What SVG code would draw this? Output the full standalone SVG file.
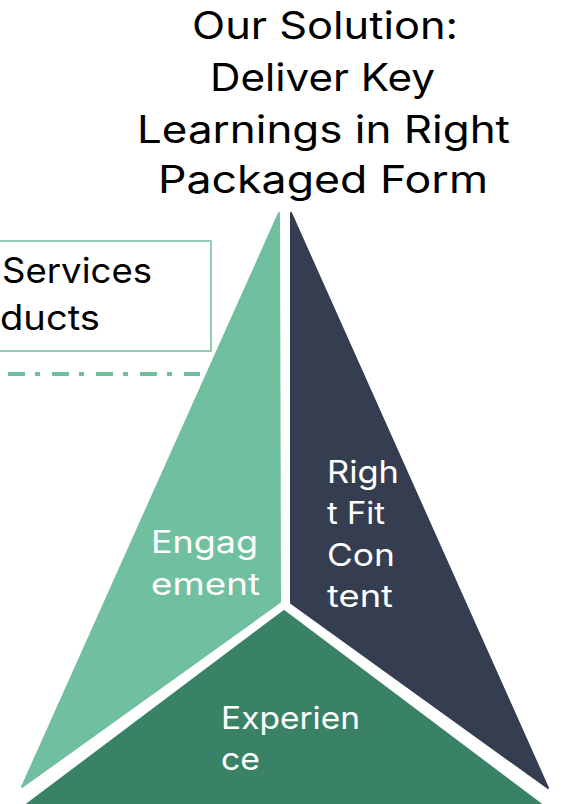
<svg xmlns="http://www.w3.org/2000/svg" width="564" height="804" viewBox="0 0 564 804">
<style>
.t{font-family:Inter,"Open Sans","Liberation Sans",sans-serif;}
.title{font-size:38px;fill:#000;}
.lbl{font-size:31px;fill:#fff;}
.box{font-size:35px;fill:#000;}
</style>
<rect width="564" height="804" fill="#fff"/>
<g id="title">
<text class="t title" x="192" y="39" textLength="266" lengthAdjust="spacingAndGlyphs">Our Solution:</text>
<text class="t title" x="210" y="91" textLength="225" lengthAdjust="spacingAndGlyphs">Deliver Key</text>
<text class="t title" x="137" y="143" textLength="373" lengthAdjust="spacingAndGlyphs">Learnings in Right</text>
<text class="t title" x="158" y="193" textLength="330" lengthAdjust="spacingAndGlyphs">Packaged Form</text>
</g>
<g id="services-box">
<rect x="-10" y="241" width="221" height="110" fill="#fff" stroke="#70BF9F" stroke-width="1.5"/>
<text class="t box" x="2" y="283" textLength="150" lengthAdjust="spacingAndGlyphs">Services</text>
<text class="t box" x="0" y="330" textLength="100" lengthAdjust="spacingAndGlyphs">ducts</text>
</g>
<g id="connectors">
<line x1="8" y1="374" x2="200" y2="374" stroke="#70BF9F" stroke-width="4" stroke-dasharray="17 10 5 12"/>
</g>
<g id="engagement">
<polygon points="279,213 280,602 22,787" fill="#70BF9F" stroke="#70BF9F" stroke-width="2" stroke-linejoin="round"/>
<text class="t lbl" x="151" y="553" textLength="107" lengthAdjust="spacingAndGlyphs">Engag</text>
<text class="t lbl" x="151" y="595" textLength="109" lengthAdjust="spacingAndGlyphs">ement</text>
</g>
<g id="right-fit-content">
<polygon points="291,213 291,603 548,788" fill="#343E50" stroke="#343E50" stroke-width="2" stroke-linejoin="round"/>
<text class="t lbl" x="327" y="483" textLength="72" lengthAdjust="spacingAndGlyphs">Righ</text>
<text class="t lbl" x="327" y="524" textLength="58" lengthAdjust="spacingAndGlyphs">t Fit</text>
<text class="t lbl" x="327" y="566" textLength="68" lengthAdjust="spacingAndGlyphs">Con</text>
<text class="t lbl" x="327" y="607" textLength="66" lengthAdjust="spacingAndGlyphs">tent</text>
</g>
<g id="experience">
<polygon points="284,611 542,805 26,805" fill="#3A8265" stroke="#3A8265" stroke-width="2" stroke-linejoin="round"/>
<text class="t lbl" x="221" y="729" textLength="139" lengthAdjust="spacingAndGlyphs">Experien</text>
<text class="t lbl" x="221" y="770" textLength="39" lengthAdjust="spacingAndGlyphs">ce</text>
</g>
</svg>
